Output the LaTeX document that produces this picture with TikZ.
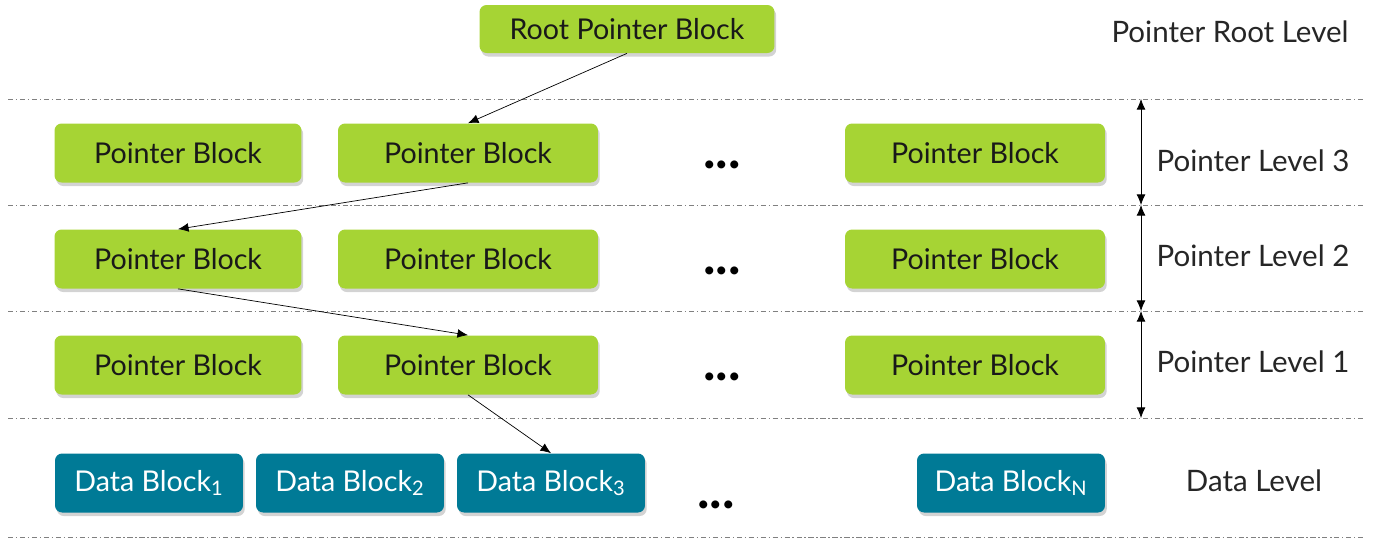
\documentclass[tikz,border=0pt]{standalone}
\usepackage{fontspec}
\setmainfont{Lato}
\usepackage{tikz}
\usetikzlibrary{arrows.meta,positioning,shadows}
\definecolor{ptrgreen}{RGB}{166,212,52}
\definecolor{datateal}{RGB}{0,122,150}

\begin{document}
\begin{tikzpicture}[
    x=0.02cm, y=-0.02cm,
    pblock/.style={rectangle, rounded corners=4pt, fill=ptrgreen,
                   minimum width=5.2cm, minimum height=1.18cm,
                   font=\fontsize{16.3}{18}\selectfont, text=black!90,
                   drop shadow={shadow xshift=1pt, shadow yshift=-2pt, opacity=0.35}},
    dblock/.style={rectangle, rounded corners=4pt, fill=datateal, text=white,
                   minimum width=3.76cm, minimum height=1.18cm,
                   font=\fontsize{16.3}{18}\selectfont,
                   drop shadow={shadow xshift=1pt, shadow yshift=-2pt, opacity=0.35}},
    level/.style={font=\fontsize{16.8}{18}\selectfont, text=black!85},
    sep/.style={gray, thin, dash pattern=on 3pt off 1.5pt on 0.8pt off 1.5pt},
    arrow/.style={-{Latex[length=6pt,width=5pt]}, thin},
    span/.style={{Latex[length=6pt,width=5pt]}-{Latex[length=6pt,width=5pt]}, thin},
    dots/.style={font=\fontsize{30}{30}\selectfont\bfseries}
]
\useasboundingbox (0,0) rectangle (1379,549);

% Level separators
\foreach \yy/\nm in {99/s3, 205/s2, 311/s1, 418/s0, 537/sd} {
    \coordinate (\nm l) at (8,\yy);
    \coordinate (\nm r) at (1365,\yy);
    \coordinate (\nm a) at (1141,\yy);
    \draw[sep] (\nm l) -- (\nm r);
}

% Root level
\node[pblock, minimum width=5.9cm, minimum height=0.96cm] (root) at (627,29) {Root Pointer Block};
\node[level] (lroot) at (1230,32) {Pointer Root Level};

% Pointer levels
\foreach \lv/\yy in {3/153, 2/259, 1/365} {
    \node[pblock, minimum width=4.94cm] (p\lv a) at (178,\yy) {Pointer Block};
    \node[pblock] (p\lv b) at (468,\yy) {Pointer Block};
    \node[dots] (d\lv) at (722,\yy+12) {...};
    \node[pblock] (p\lv n) at (975,\yy) {Pointer Block};
}
\node[level] (l3) at (1253,161) {Pointer Level 3};
\node[level] (l2) at (1253,256) {Pointer Level 2};
\node[level] (l1) at (1253,362) {Pointer Level 1};

% Data level
\node[dblock] (db1) at (149,483) {Data Block\textsubscript{1}};
\node[dblock] (db2) at (350,483) {Data Block\textsubscript{2}};
\node[dblock] (db3) at (551,483) {Data Block\textsubscript{3}};
\node[dots] (dd) at (716,505) {...};
\node[dblock] (dbn) at (1011,483) {Data Block\textsubscript{N}};
\node[level] (ld) at (1254,481) {Data Level};

% Level spans
\draw[span] (s3a) -- (s2a);
\draw[span] (s2a) -- (s1a);
\draw[span] (s1a) -- (s0a);

% Pointer chain
\draw[arrow] (root.south) -- (p3b.north);
\draw[arrow] (p3b.south) -- (p2a.north);
\draw[arrow] (p2a.south) -- (p1b.north);
\draw[arrow] (p1b.south) -- (db3.north);

\end{tikzpicture}
\end{document}
